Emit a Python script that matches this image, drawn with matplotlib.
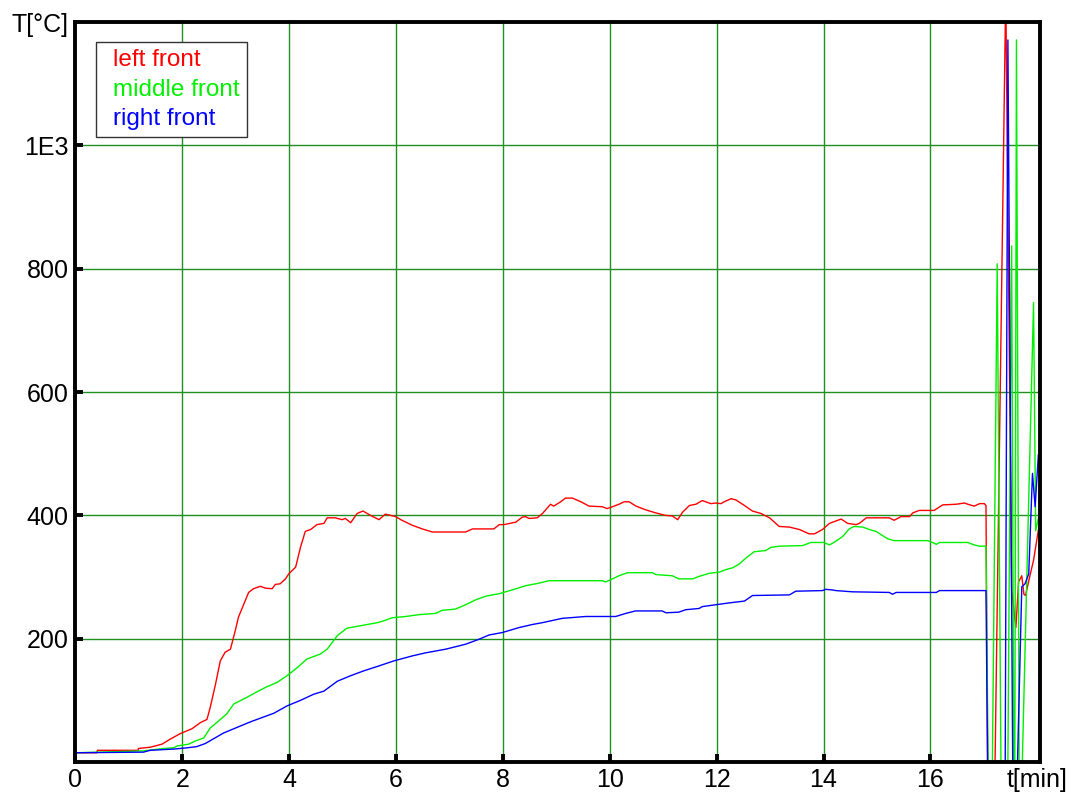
import numpy as np
import matplotlib.pyplot as plt

plt.rcParams['font.family'] = ['Liberation Sans', 'DejaVu Sans']

# temperature readings (t in min, T in degC)
t_left = [0, 0.40, 0.41, 1.17, 1.18, 1.40, 1.62, 1.77, 1.96, 2.18, 2.34, 2.46, 2.52, 2.62, 2.71,
          2.80, 2.90, 2.99, 3.05, 3.15, 3.24, 3.33, 3.46, 3.55, 3.68, 3.74, 3.83, 3.93, 3.99,
          4.12, 4.21, 4.30, 4.40, 4.52, 4.65, 4.71, 4.86, 4.99, 5.05, 5.15, 5.27, 5.38, 5.52,
          5.68, 5.80, 5.99, 6.11, 6.30, 6.49, 6.68, 7.30, 7.43, 7.83, 7.93, 8.02, 8.24, 8.36,
          8.42, 8.49, 8.64, 8.74, 8.89, 8.95, 9.08, 9.17, 9.30, 9.46, 9.61, 9.86, 9.95, 10.05,
          10.17, 10.27, 10.36, 10.49, 10.67, 10.86, 11.04, 11.17, 11.27, 11.36, 11.49, 11.61,
          11.73, 11.89, 11.98, 12.08, 12.14, 12.27, 12.36, 12.52, 12.67, 12.83, 12.99, 13.17,
          13.36, 13.55, 13.73, 13.83, 13.98, 14.11, 14.33, 14.45, 14.61, 14.67, 14.80, 15.23,
          15.32, 15.45, 15.61, 15.67, 15.79, 16.07, 16.23, 16.48, 16.64, 16.70, 16.82, 16.92,
          17.01, 17.04, 17.07, 17.21, 17.41, 17.52, 17.60, 17.65, 17.71, 17.75, 17.78, 17.87,
          17.93, 18.02]
T_left = [15, 15, 19, 19, 22, 24, 29, 37, 46, 54, 64, 69, 88, 126, 164,
          178, 183, 213, 235, 256, 275, 281, 285, 282, 281, 288, 289, 297, 305,
          316, 348, 374, 377, 385, 387, 396, 396, 393, 395, 388, 403, 407, 400,
          393, 402, 398, 392, 384, 378, 373, 373, 378, 378, 385, 385, 389, 397,
          398, 395, 396, 403, 418, 415, 422, 428, 428, 422, 415, 414, 411, 414,
          418, 422, 422, 415, 409, 404, 400, 399, 393, 405, 416, 418,
          424, 419, 420, 419, 422, 427, 425, 416, 407, 403, 396, 382,
          381, 377, 370, 370, 377, 387, 394, 387, 385, 387, 396, 396,
          392, 398, 398, 404, 408, 408, 417, 418, 420, 418, 415, 419,
          419, 416, 0, 0, 1250, 280, 218, 292, 302, 272, 270, 305,
          327, 376]

t_mid = [0, 1.27, 1.65, 1.84, 1.90, 2.12, 2.24, 2.40, 2.52, 2.71, 2.83, 2.96, 3.21, 3.40, 3.58,
         3.77, 3.96, 4.15, 4.33, 4.58, 4.71, 4.90, 5.08, 5.27, 5.46, 5.65, 5.77, 5.93, 6.18,
         6.43, 6.74, 6.86, 7.11, 7.30, 7.49, 7.68, 7.93, 8.17, 8.43, 8.67, 8.86, 9.86, 9.92,
         10.05, 10.17, 10.33, 10.80, 10.86, 11.17, 11.29, 11.55, 11.67, 11.86, 12.05, 12.17,
         12.30, 12.42, 12.55, 12.70, 12.92, 13.01, 13.17, 13.61, 13.76, 14.01, 14.11, 14.23,
         14.36, 14.48, 14.57, 14.73, 14.86, 14.98, 15.07, 15.20, 15.32, 15.95, 16.04, 16.11,
         16.17, 16.70, 16.82, 16.92, 17.04, 17.08, 17.16, 17.25, 17.32, 17.45, 17.52, 17.56,
         17.58, 17.61, 17.66, 17.72, 17.93, 17.97, 18.02]
T_mid = [15, 18, 22, 23, 26, 29, 34, 39, 55, 69, 78, 94, 105, 114, 122,
         129, 140, 153, 167, 175, 183, 205, 217, 220, 223, 226, 229, 234, 236,
         239, 241, 246, 248, 255, 263, 269, 273, 279, 286, 290, 294, 294, 292,
         297, 302, 307, 307, 304, 302, 297, 297, 301, 306, 308, 312,
         315, 321, 331, 341, 343, 348, 350, 351, 356, 356, 352, 358,
         366, 378, 382, 381, 377, 374, 369, 362, 359, 359, 356, 353,
         356, 356, 352, 350, 350, 0, 0, 808, 0, 0, 837, 0,
         0, 1171, 0, 0, 745, 375, 395]

t_right = [0, 1.27, 1.40, 1.84, 2.09, 2.27, 2.43, 2.59, 2.77, 3.02, 3.27, 3.52, 3.71, 3.96, 4.21,
           4.46, 4.65, 4.90, 5.15, 5.40, 5.65, 5.96, 6.30, 6.55, 6.93, 7.30, 7.55, 7.74, 7.99,
           8.30, 8.55, 8.74, 9.11, 9.55, 10.11, 10.30, 10.48, 10.98, 11.05, 11.29, 11.42,
           11.67, 11.73, 11.98, 12.23, 12.52, 12.67, 13.36, 13.48, 13.98, 14.04, 14.17, 14.23,
           14.54, 15.23, 15.29, 15.36, 16.11, 16.17, 17.04, 17.07, 17.40, 17.45, 17.54, 17.63,
           17.71, 17.77, 17.84, 17.91, 17.96, 18.02]
T_right = [15, 16, 19, 21, 23, 25, 30, 38, 47, 56, 65, 73, 79, 91, 100,
           110, 115, 131, 140, 148, 155, 164, 172, 177, 183, 191, 199, 206, 210,
           218, 223, 226, 233, 236, 236, 241, 245, 245, 242, 243, 247,
           249, 252, 255, 258, 261, 270, 271, 277, 278, 280, 279, 278,
           276, 275, 272, 275, 275, 278, 278, 0, 0, 1171, 0, 0,
           284, 289, 305, 468, 414, 498]

x_ticks = [0, 2, 4, 6, 8, 10, 12, 14, 16, 18]
x_labels = ['0', '2', '4', '6', '8', '10', '12', '14', '16', 't[min]']
y_ticks = [200, 400, 600, 800, 1000, 1200]
y_labels = ['200', '400', '600', '800', '1E3', 'T[°C]']

fig = plt.figure(figsize=(10.77, 7.96), dpi=100)
ax = fig.add_axes([0.0701, 0.0427, 0.8955, 0.9296])

ax.plot(t_left, T_left, color='#ff0000', lw=1.0, label='left front')
ax.plot(t_mid, T_mid, color='#00f000', lw=1.0, label='middle front')
ax.plot(t_right, T_right, color='#0000ff', lw=1.0, label='right front')

ax.set_xlim(0, 18.05)
ax.set_ylim(0, 1200)
ax.set_xticks(x_ticks)
ax.set_xticklabels(x_labels)
ax.set_yticks(y_ticks)
ax.set_yticklabels(y_labels)
ax.tick_params(direction='in', length=6, width=2.8, labelsize=18, color='black')
ax.tick_params(axis='x', pad=4)
ax.tick_params(axis='y', pad=5)
# no marks under the axis-name labels
ax.xaxis.get_major_ticks()[-1].tick1line.set_visible(False)
ax.yaxis.get_major_ticks()[-1].tick1line.set_visible(False)

ax.grid(True, color='#1f8f1f', lw=1.0)
ax.xaxis.get_major_ticks()[-1].gridline.set_visible(False)
ax.yaxis.get_major_ticks()[-1].gridline.set_visible(False)
ax.set_axisbelow(True)

for s in ax.spines.values():
    s.set_linewidth(2.8)
    s.set_color('black')

leg = ax.legend(loc='upper left', bbox_to_anchor=(0.021, 0.973), borderaxespad=0,
                handlelength=0, handletextpad=0.4, labelcolor='linecolor', fontsize=17.5,
                fancybox=False, framealpha=1, edgecolor='#333333', borderpad=0.3,
                labelspacing=0.3)
leg.get_frame().set_linewidth(1.0)
for h in leg.legend_handles:
    h.set_visible(False)

plt.savefig('out.png', dpi=100)
